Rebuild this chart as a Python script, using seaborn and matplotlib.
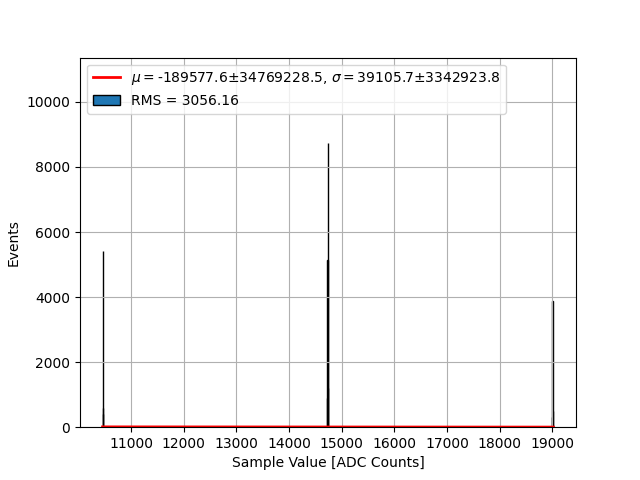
import numpy as np
import pandas as pd
import matplotlib
matplotlib.use("Agg")
import matplotlib.pyplot as plt
import seaborn as sns
from matplotlib.patches import Patch
from matplotlib.lines import Line2D
from matplotlib.ticker import MultipleLocator

# Valores de ADC y cuentas por bin
adc_values = [10460, 10473, 10474, 10475,
              14731, 14732, 14733, 14734,
              19003, 19004, 19005, 19022]
adc_counts = [2, 600, 5410, 400,
              900, 5140, 8740, 1200,
              300, 3870, 500, 2]

# Parametros del ajuste gaussiano
fit_mu = -189577.6
fit_sigma = 39105.7
fit_amp = 4.8e6
rms = 3056.16

df = pd.DataFrame({"adc": adc_values, "n": adc_counts})
lo, hi = min(adc_values), max(adc_values) + 1

fig, ax = plt.subplots(figsize=(6.4, 4.8), dpi=100)

# Curva del ajuste
xf = np.linspace(lo, hi, 500)
yf = fit_amp * np.exp(-(xf - fit_mu) ** 2 / (2 * fit_sigma ** 2))
ax.plot(xf, yf, color="red", lw=2)

sns.histplot(data=df, x="adc", weights="n", binwidth=1, binrange=(lo, hi), ax=ax,
             color="#1f77b4", edgecolor="black", alpha=1, linewidth=1)

ax.set_ylim(0, 1.3 * max(adc_counts))
ax.xaxis.set_major_locator(MultipleLocator(1000))
ax.grid(True)
ax.set_xlabel("Sample Value [ADC Counts]")
ax.set_ylabel("Events")

handles = [Line2D([], [], color="red", lw=2),
           Patch(facecolor="#1f77b4", edgecolor="black")]
labels = [r"$\mu = $" + f"{fit_mu:.1f}±34769228.5, " + r"$\sigma = $" + f"{fit_sigma:.1f}±3342923.8",
          f"RMS = {rms:.2f}"]
ax.legend(handles, labels, loc="upper left")

plt.savefig("out.png")
